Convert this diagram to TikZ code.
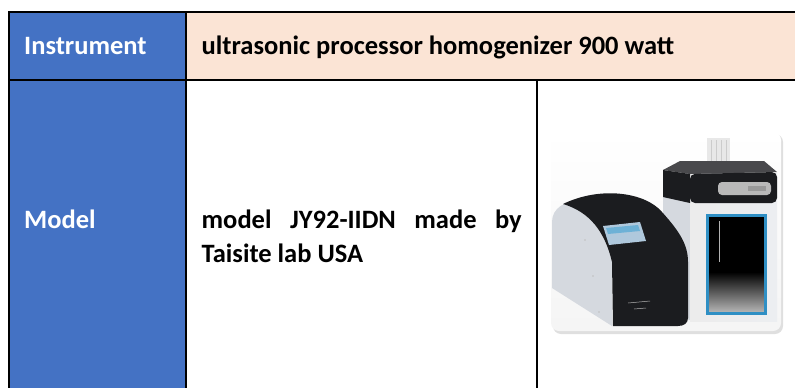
\documentclass[tikz,border=0pt]{standalone}
\usepackage{fontspec}
\setmainfont{Carlito}
\usepackage{tikz}
\usetikzlibrary{positioning}

\definecolor{hdrblue}{HTML}{4472C4}
\definecolor{hdrpeach}{HTML}{FBE4D5}
\definecolor{winblue}{HTML}{2F8FC4}
\definecolor{scrblue}{HTML}{AFC8DC}
\definecolor{bodygray}{HTML}{ECEEF1}
\definecolor{sidegray}{HTML}{D5D9DF}
\definecolor{hoodblack}{HTML}{1B1C1F}

\tikzset{
  tblline/.style={line width=2pt, black},
  celltxt/.style={anchor=base west, inner sep=0pt,
    font=\fontsize{26.5}{34}\selectfont\bfseries},
  hdrtxt/.style={celltxt, text=white},
}

\begin{document}
\begin{tikzpicture}[x=1pt,y=-1pt]
   \useasboundingbox (0,0) rectangle (795,388);
   % cell fills
   \fill[hdrblue] (9,12) rectangle (185.5,388);
   \fill[hdrpeach] (185.5,12) rectangle (795,80);
   % rules
   \draw[tblline] (9,388) -- (9,12) -- (795,12);
   \draw[tblline] (9,80) -- (795,80);
   \draw[tblline] (185.5,12) -- (185.5,388);
   \draw[tblline] (537,80) -- (537,388);
   % texts
   \node[hdrtxt] (instr) at (24,54.3) {Instrument};
   \node[celltxt] (instrval) at (201.5,54.3) {ultrasonic processor homogenizer 900 watt};
   \node[hdrtxt] (model) at (24,228.5) {Model};
   \node[celltxt] (modelval) at (201.5,228.5)
     {\vtop{\hbox{\makebox[320pt][s]{model JY92-IIDN made by}}\hbox{Taisite lab USA}}};
   % photo of the processor
   \fill[gray!25, rounded corners=8pt] (553,134) rectangle (783,334);
   \shade[top color=white, bottom color=gray!8, rounded corners=8pt] (551,132) rectangle (781,331);
   % sonication box
   \fill[sidegray] (663,176) -- (690,173) -- (690,320) -- (663,314) -- cycle;
   \shade[left color=gray!15, right color=bodygray] (690,173) rectangle (777,321);
   \fill[gray!18] (707,138) rectangle (730,165);
   \draw[gray!40] (711,140) -- (711,164) (716,140) -- (716,164) (721,140) -- (721,164) (726,140) -- (726,164);
   \fill[hoodblack!80] (663,170) -- (680,161) -- (764,161) -- (777,172) -- (690,174) -- cycle;
   \fill[hoodblack] (663,170) -- (690,174) -- (690,203) -- (663,197) -- cycle;
   \fill[hoodblack, rounded corners=5pt] (690,174) -- (777,172) -- (777,203) -- (690,203) -- cycle;
   \fill[gray!55, rounded corners=4pt] (718,182) rectangle (771,195);
   \fill[gray!80] (748,186) rectangle (766,191);
   \fill[black] (707,215) rectangle (765,313);
   \shade[top color=black, bottom color=gray!55] (707,272) rectangle (765,313);
   \draw[winblue, line width=3pt] (707,215) rectangle (765,313);
   \draw[gray!60, line width=0.8pt] (719,221) -- (719,262);
   % generator unit
   \fill[sidegray] (552,222) .. controls (552,208) and (565,201) .. (580,200)
     -- (600,210) -- (612,262) -- (612,326) -- (552,288) -- cycle;
   \fill[hoodblack] (563,204) .. controls (600,186) and (645,192) .. (662,212)
     .. controls (680,232) and (688,245) .. (688,262) -- (688,318)
     .. controls (688,323) and (684,326) .. (678,326) -- (613,326) -- (612,262)
     .. controls (605,232) and (590,212) .. cycle;
   \fill[scrblue] (603,226) -- (640,222) -- (646,241) -- (609,245) -- cycle;
   \fill[winblue!70] (606,228) -- (638,225) -- (640,231) -- (608,234) -- cycle;
   \draw[gray!60, line width=0.5pt] (628,303) -- (650,301) (634,309) -- (646,308);
   \fill[gray!50] (585,240) circle (0.8pt) (593,276) circle (0.8pt) (599,312) circle (0.8pt);
\end{tikzpicture}
\end{document}
